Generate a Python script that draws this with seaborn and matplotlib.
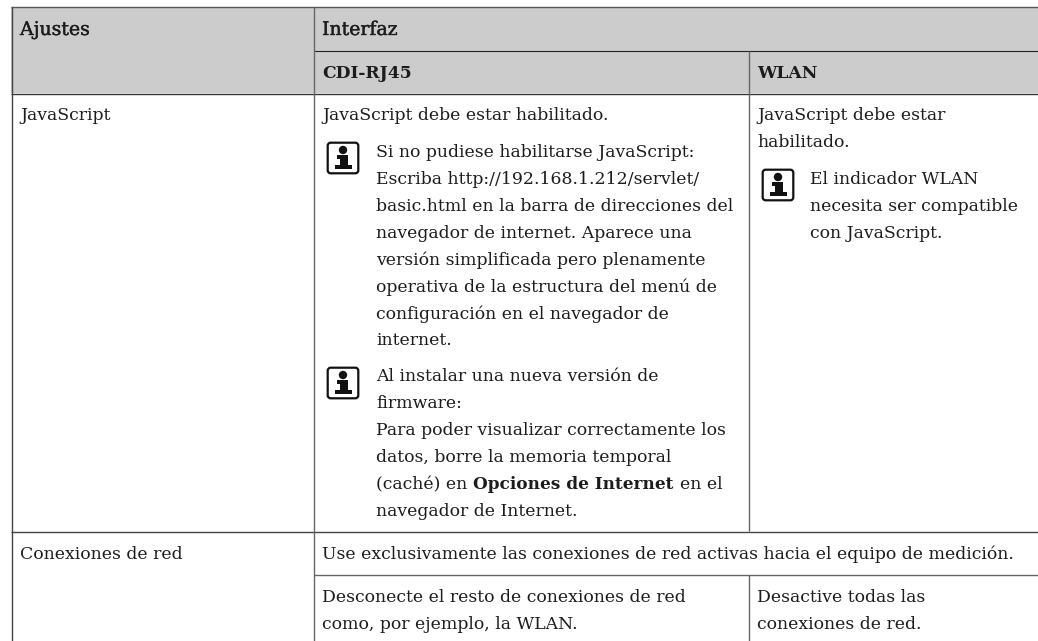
import matplotlib
matplotlib.use('Agg')
import matplotlib.pyplot as plt
import matplotlib.patheffects as pe
import seaborn as sns
from matplotlib.patches import FancyBboxPatch, Circle, Polygon

sns.set_theme(style='white')
plt.rcParams['font.family'] = ['DejaVu Serif']

W, H = 1038, 641
FS = 12.45
INK = '#1c1c1c'

# table contents: (text, x, baseline y)
medium_headers = [('Ajustes', 20, 35), ('Interfaz', 322, 35)]
bold_headers = [('CDI-RJ45', 322, 78), ('WLAN', 757, 78)]

cdi_lines = [
    'Si no pudiese habilitarse JavaScript:',
    'Escriba http://192.168.1.212/servlet/',
    'basic.html en la barra de direcciones del',
    'navegador de internet. Aparece una',
    'versión simplificada pero plenamente',
    'operativa de la estructura del menú de',
    'configuración en el navegador de',
    'internet.',
]
cdi_baselines = [157, 184, 211, 238, 265, 292, 319, 345]

firmware_lines = [
    'Al instalar una nueva versión de',
    'firmware:',
    'Para poder visualizar correctamente los',
    'datos, borre la memoria temporal',
]
firmware_baselines = [381, 408, 435, 462]

wlan_lines = ['El indicador WLAN', 'necesita ser compatible', 'con JavaScript.']
wlan_baselines = [184, 211, 238]

plain_cells = [
    ('JavaScript', 20, 120),
    ('JavaScript debe estar habilitado.', 322, 120),
    ('JavaScript debe estar', 757, 120),
    ('habilitado.', 757, 147),
    ('navegador de Internet.', 376, 516),
    ('Conexiones de red', 20, 559),
    ('Use exclusivamente las conexiones de red activas hacia el equipo de medición.', 322, 559),
    ('Desconecte el resto de conexiones de red', 322, 602),
    ('como, por ejemplo, la WLAN.', 322, 629),
    ('Desactive todas las', 757, 602),
    ('conexiones de red.', 757, 629),
]

icon_spots = [(327, 142), (327, 367), (762, 169)]

fig, ax = plt.subplots(figsize=(W / 100, H / 100), dpi=100)
fig.subplots_adjust(0, 0, 1, 1)
ax.set_xlim(0, W)
ax.set_ylim(H, 0)
ax.axis('off')
sns.despine(ax=ax, left=True, bottom=True)

# header band
ax.fill_between([11, W], 7, 93, color='#cccccc', lw=0, zorder=0)

# rules
ax.hlines(6.5, 11, W, color='#555555', lw=1.0)
ax.hlines(50.5, 314, W, color='#222222', lw=0.8)
ax.hlines(93.5, 11, W, color='#333333', lw=1.0)
ax.hlines(531.5, 11, W, color='#444444', lw=1.0)
ax.hlines(575, 314, W, color='#666666', lw=1.0)
ax.vlines(11.5, 6.5, H, color='#444444', lw=1.0)
ax.vlines(314, 6.5, H, color='#666666', lw=1.0)
ax.vlines(749, 50.5, 531, color='#666666', lw=1.0)
ax.vlines(749, 575, H, color='#666666', lw=1.0)


def put(txt, x, y, **kw):
    kw.setdefault('fontsize', FS)
    return ax.text(x, y, txt, color=INK, va='baseline', ha='left', **kw)


# these two are a medium weight in the original, regular with a thin stroke gets close
for txt, x, y in medium_headers:
    put(txt, x, y, fontsize=13.6, path_effects=[pe.withStroke(linewidth=0.25, foreground=INK)])
for txt, x, y in bold_headers:
    put(txt, x, y, fontsize=12.3, fontweight='bold')
for txt, x, y in plain_cells:
    put(txt, x, y)
for txt, y in zip(cdi_lines, cdi_baselines):
    put(txt, 376, y)
for txt, y in zip(firmware_lines, firmware_baselines):
    put(txt, 376, y)
for txt, y in zip(wlan_lines, wlan_baselines):
    put(txt, 810, y)

# mixed weight line
renderer = fig.canvas.get_renderer()
x_now = 376
for txt, weight, size in [('(caché) en', 'normal', FS), ('Opciones de Internet', 'bold', 12.2), ('en el', 'normal', FS)]:
    t = put(txt, x_now, 489, fontweight=weight, fontsize=size)
    x_now = t.get_window_extent(renderer).x1 + 6

# info icons, square box with a filled dot and a serif stem
for ix, iy in icon_spots:
    ax.add_patch(FancyBboxPatch((ix + 3, iy + 3), 26, 26, boxstyle='round,pad=2.3,rounding_size=3',
                                fc='white', ec='#111111', lw=1.6))
    ax.add_patch(Circle((ix + 16, iy + 8), 4.2, fc='#111111', ec='none'))
    stem = [(ix + 10, iy + 13), (ix + 20.5, iy + 13), (ix + 20.5, iy + 22.5), (ix + 24.5, iy + 22.5),
            (ix + 24.5, iy + 27), (ix + 7.5, iy + 27), (ix + 7.5, iy + 22.5), (ix + 12.5, iy + 22.5),
            (ix + 12.5, iy + 16.5), (ix + 10, iy + 16.5)]
    ax.add_patch(Polygon(stem, closed=True, fc='#111111', ec='none'))

fig.savefig('out.png', dpi=100)
